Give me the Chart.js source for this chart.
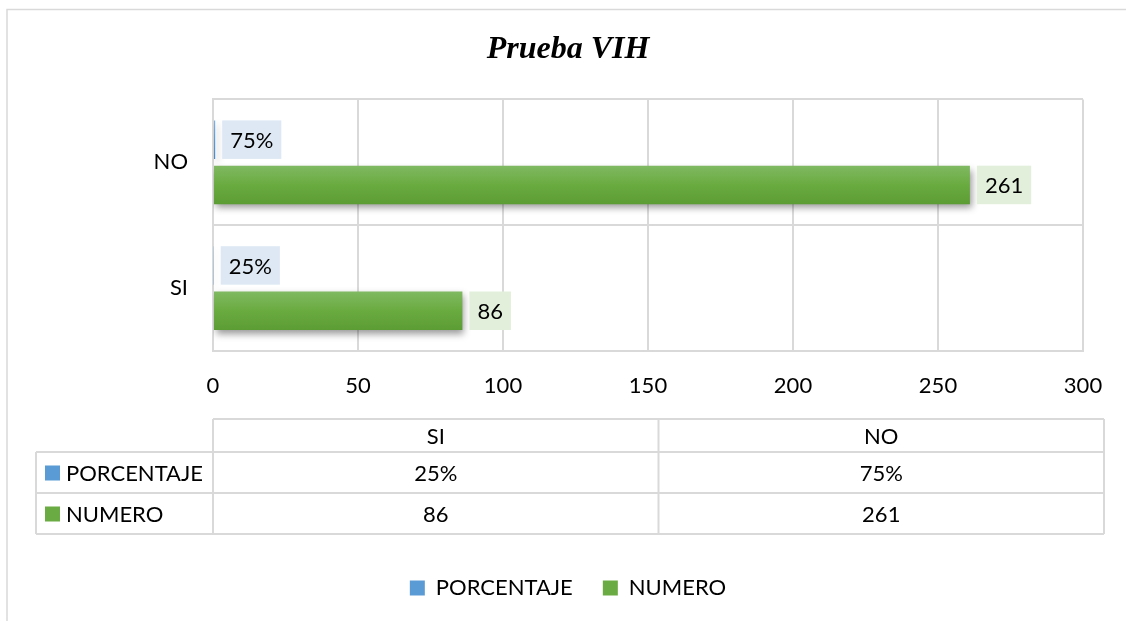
<!DOCTYPE html>
<html>
<head>
<meta charset="utf-8">
<script src="https://cdn.jsdelivr.net/npm/chart.js@4"></script>
<style>
  html, body { margin: 0; padding: 0; background: #fff; }
</style>
</head>
<body>
<canvas id="chart" width="1126" height="621"></canvas>
<script>
const categories = ['SI', 'NO'];
const seriesNames = ['PORCENTAJE', 'NUMERO'];
const porcentaje = [0.25, 0.75];
const numero = [86, 261];
const xTicks = [0, 50, 100, 150, 200, 250, 300];

const FONT = 'Lato';
const GRID = '#d9d9d9';
const pct = v => Math.round(v * 100) + '%';

// outer frame of the chart object
const frame = {
    id: 'frame',
    beforeDraw(chart) {
        const c = chart.ctx;
        c.save();
        c.fillStyle = '#fff';
        c.fillRect(0, 0, chart.width, chart.height);
        c.strokeStyle = GRID;
        c.lineWidth = 1.5;
        c.strokeRect(7, 9.5, chart.width + 50, chart.height + 50);
        c.restore();
    }
};

// gradient fill + soft shadow on bars
const barStyle = {
    id: 'barStyle',
    beforeDatasetsDraw(chart) {
        const c = chart.ctx;
        c.save();
        c.shadowColor = 'rgba(0,0,0,0.4)';
        c.shadowBlur = 7;
        c.shadowOffsetX = 2;
        c.shadowOffsetY = 4;
        chart.data.datasets.forEach((ds, i) => {
            chart.getDatasetMeta(i).data.forEach(bar => {
                const top = bar.y - bar.height / 2;
                const g = c.createLinearGradient(0, top, 0, top + bar.height);
                g.addColorStop(0, ds.grad[0]);
                g.addColorStop(0.5, ds.grad[1]);
                g.addColorStop(1, ds.grad[2]);
                bar.options = Object.assign({}, bar.options, { backgroundColor: g });
            });
        });
    },
    afterDatasetsDraw(chart) {
        chart.ctx.restore();
    }
};

// value labels with a tinted box to the right of each bar
const valueLabels = {
    id: 'valueLabels',
    afterDatasetsDraw(chart) {
        const c = chart.ctx;
        c.save();
        c.font = '22px ' + FONT;
        c.textAlign = 'center';
        c.textBaseline = 'middle';
        chart.data.datasets.forEach((ds, i) => {
            chart.getDatasetMeta(i).data.forEach((bar, j) => {
                const txt = ds.fmt(ds.data[j]);
                const w = c.measureText(txt).width + 16;
                const x = bar.x + 7;
                const top = bar.y - bar.height / 2;
                c.fillStyle = ds.boxColor;
                c.fillRect(x, top, w, bar.height);
                c.fillStyle = '#000';
                c.fillText(txt, x + w / 2, bar.y + 1);
            });
        });
        c.restore();
    }
};

// data table under the axis
const dataTable = {
    id: 'dataTable',
    afterDraw(chart) {
        const c = chart.ctx;
        const area = chart.chartArea;
        const left = 36, mid = area.left, right = area.right + 21;
        const top = area.bottom + 68;
        const rows = [top, top + 33, top + 74, top + 115];
        const colW = (right - mid) / categories.length;
        c.save();
        c.strokeStyle = GRID;
        c.lineWidth = 2;
        c.beginPath();
        c.moveTo(mid, rows[0]); c.lineTo(right, rows[0]);
        for (let r = 1; r < rows.length; r++) {
            c.moveTo(left, rows[r]); c.lineTo(right, rows[r]);
        }
        c.moveTo(left, rows[1]); c.lineTo(left, rows[3]);
        for (let k = 0; k <= categories.length; k++) {
            const x = mid + colW * k;
            c.moveTo(x, rows[0]); c.lineTo(x, rows[3]);
        }
        c.stroke();

        c.font = '22px ' + FONT;
        c.fillStyle = '#000';
        c.textBaseline = 'middle';
        c.textAlign = 'center';
        categories.forEach((cat, k) => {
            c.fillText(cat, mid + colW * (k + 0.5), (rows[0] + rows[1]) / 2 + 1);
        });
        chart.data.datasets.forEach((ds, i) => {
            const cy = (rows[i + 1] + rows[i + 2]) / 2 + 1;
            c.fillStyle = ds.backgroundColor;
            c.fillRect(45, cy - 8, 15, 15);
            c.fillStyle = '#000';
            c.textAlign = 'left';
            c.fillText(ds.label, 66, cy);
            c.textAlign = 'center';
            ds.data.forEach((v, k) => {
                c.fillText(ds.fmt(v), mid + colW * (k + 0.5), cy);
            });
        });
        c.restore();
    }
};

new Chart(document.getElementById('chart'), {
    type: 'bar',
    data: {
        labels: categories,
        datasets: [
            {
                label: seriesNames[0],
                data: porcentaje,
                backgroundColor: '#5b9bd5',
                grad: ['#7fb0e0', '#5b9bd5', '#4a89c6'],
                boxColor: '#dde8f4',
                fmt: pct
            },
            {
                label: seriesNames[1],
                data: numero,
                backgroundColor: '#6aab43',
                grad: ['#80b962', '#6aab40', '#5c9c34'],
                boxColor: '#e2efda',
                fmt: String
            }
        ]
    },
    options: {
        indexAxis: 'y',
        responsive: false,
        animation: false,
        categoryPercentage: 0.72,
        barPercentage: 0.85,
        layout: { padding: { top: 0, left: 53, right: 43, bottom: 12 } },
        scales: {
            x: {
                min: xTicks[0],
                max: xTicks[xTicks.length - 1],
                ticks: {
                    stepSize: xTicks[1] - xTicks[0],
                    font: { family: FONT, size: 22 },
                    color: '#000',
                    padding: 22
                },
                grid: { color: GRID, lineWidth: 2, drawTicks: false },
                border: { color: GRID, width: 2 },
                afterFit: s => { s.height = 196; }
            },
            y: {
                reverse: true,
                ticks: { font: { family: FONT, size: 22 }, color: '#000', padding: 25 },
                grid: { offset: true, color: GRID, lineWidth: 2, drawTicks: false },
                border: { color: GRID, width: 2 },
                afterFit: s => { s.width = 160; }
            }
        },
        plugins: {
            title: {
                display: true,
                text: 'Prueba VIH',
                color: '#000',
                font: { family: 'Liberation Serif', size: 32, style: 'italic', weight: 'bold' },
                padding: { top: 31, bottom: 30 }
            },
            legend: {
                position: 'bottom',
                labels: {
                    boxWidth: 15,
                    boxHeight: 15,
                    color: '#000',
                    font: { family: FONT, size: 22 },
                    padding: 30
                }
            },
            tooltip: { enabled: false }
        }
    },
    plugins: [frame, barStyle, valueLabels, dataTable]
});
</script>
</body>
</html>
